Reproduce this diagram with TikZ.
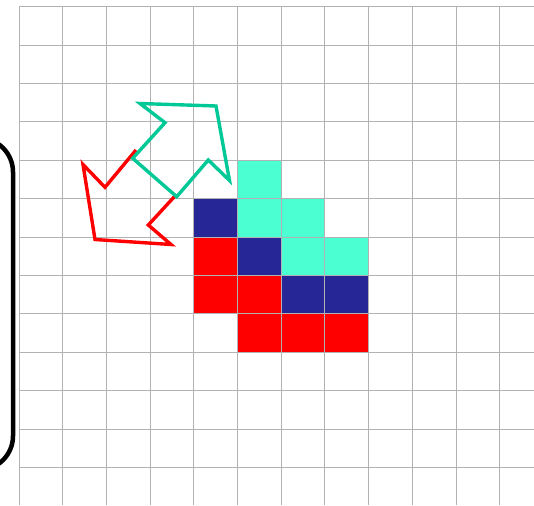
\documentclass[tikz,border=0pt]{standalone}
\usetikzlibrary{calc}
\definecolor{aqua}{RGB}{76,255,210}
\definecolor{navyb}{RGB}{38,38,150}
\definecolor{redb}{RGB}{255,0,0}
\definecolor{greenarr}{RGB}{0,200,150}
\definecolor{gridgray}{RGB}{178,178,178}
\tikzset{
  gridline/.style={draw=gridgray, line width=0.9pt},
  arrowline/.style={line width=3.4pt, line join=miter},
}
\newcommand{\gcell}[3]{\fill[#3] ({19+43.7*#1},{6.7+38.4*#2}) rectangle ++(43.7,38.4);}
\begin{document}
\begin{tikzpicture}[x=1pt,y=-1pt]
\useasboundingbox (0,0) rectangle (534,505);
\fill[white] (0,0) rectangle (534,505);
% coloured cells
\gcell{5}{4}{aqua}
\gcell{5}{5}{aqua}
\gcell{6}{5}{aqua}
\gcell{6}{6}{aqua}
\gcell{7}{6}{aqua}
\gcell{4}{5}{navyb}
\gcell{5}{6}{navyb}
\gcell{6}{7}{navyb}
\gcell{7}{7}{navyb}
\gcell{4}{6}{redb}
\gcell{4}{7}{redb}
\gcell{5}{7}{redb}
\gcell{5}{8}{redb}
\gcell{6}{8}{redb}
\gcell{7}{8}{redb}
% grid
\foreach \k in {0,...,11} {
  \draw[gridline] ({19+43.7*\k},6.7) -- ({19+43.7*\k},505);
}
\foreach \k in {0,...,12} {
  \draw[gridline] (19,{6.7+38.4*\k}) -- (534,{6.7+38.4*\k});
}
% black bracket (rounded rectangle clipped at the left)
\draw[line width=4.5pt, rounded corners=34pt] (-60,138) -- (13,138) -- (13,470) -- (-60,470);
% red arrow (down-left)
\draw[arrowline, draw=redb] (136,150) -- (105,187.3) -- (83,164.5) -- (95,239.5) -- (171,244.5) -- (148.3,225) -- (175,196);
% green arrow (up-right)
\draw[arrowline, draw=greenarr] (132.7,158.3) -- (165,122.7) -- (140,103.5) -- (216,106) -- (229.5,180.5) -- (208.3,160) -- (176.7,196.7) -- cycle;
\end{tikzpicture}
\end{document}
